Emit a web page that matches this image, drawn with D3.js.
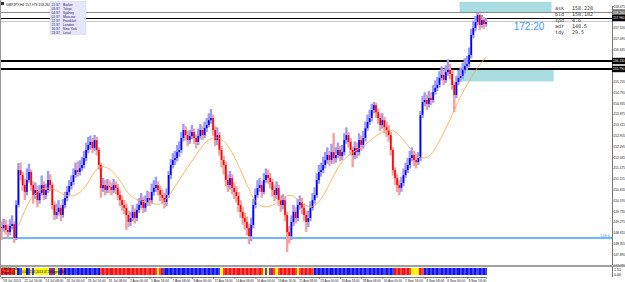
<!DOCTYPE html>
<html>
<head>
<meta charset="UTF-8">
<title>GBPJPY,H4</title>
<script src="https://d3js.org/d3.v7.min.js"></script>
<style>
body { margin: 0; background: #fff; }
svg { display: block; font-family: "Liberation Sans", Arial, sans-serif; }
</style>
</head>
<body>
<div id="graph"></div>
<script>
// H4 bars, 19 Jul 2013 -> 11 Sep 2013 (open of each bar = previous close)
const firstOpen = 149.05;
const closes = [
  149.01,149.14,148.93,148.84,149.10,149.18,148.59,150.00,151.48,151.27,
  150.84,150.55,151.06,151.40,150.84,150.42,150.63,150.20,150.50,150.84,
  150.42,150.63,151.06,150.84,149.99,149.57,149.70,149.87,149.57,149.99,
  150.29,150.55,150.80,150.97,151.27,151.48,151.40,151.57,151.70,151.99,
  152.34,152.55,152.68,152.42,152.76,152.34,151.70,150.72,150.84,150.63,
  150.80,150.76,150.63,150.84,150.72,150.42,150.20,149.99,149.87,149.57,
  149.27,149.44,149.70,149.44,149.78,149.99,150.20,149.87,150.08,150.29,
  150.20,150.55,150.72,150.84,150.63,150.42,150.29,150.12,150.42,151.27,
  151.70,151.91,151.99,152.25,152.34,152.85,153.19,152.97,152.76,152.93,
  153.10,152.85,152.68,152.93,153.19,152.97,153.27,153.40,153.61,153.70,
  153.19,152.76,152.97,152.34,151.91,151.70,151.06,150.84,151.14,150.72,
  150.55,150.38,149.99,149.70,149.44,149.27,149.01,148.67,149.14,149.99,
  150.42,150.72,150.84,150.55,151.06,151.27,151.14,150.97,150.63,150.42,
  150.72,150.20,149.99,150.20,149.57,148.84,148.67,149.27,149.70,149.44,
  149.99,150.12,149.87,149.57,149.27,149.44,149.87,150.20,150.42,151.06,
  151.40,151.48,151.70,151.91,152.12,151.91,152.25,151.99,152.12,152.34,
  152.08,152.25,152.76,152.97,152.68,152.34,152.12,152.42,152.25,152.76,
  152.55,152.85,153.27,153.53,153.70,154.04,154.25,153.95,153.70,153.40,
  153.61,153.31,153.19,152.97,152.34,151.48,151.14,150.84,150.72,150.93,
  151.27,151.48,151.70,151.99,152.12,151.91,151.82,151.99,153.83,154.38,
  154.47,154.30,154.55,154.47,154.81,154.98,155.11,155.41,155.54,155.32,
  155.66,155.75,155.58,155.11,154.68,155.24,155.41,155.49,155.75,155.92,
  156.00,156.39,157.24,157.54,157.79,158.09,157.67,157.88,157.71,157.79
];
const highs = [
  149.30,149.40,149.35,149.15,149.38,149.55,149.30,150.20,151.78,151.80,
  151.40,151.10,151.55,151.75,151.50,151.00,150.95,150.80,150.85,151.25,
  151.00,150.90,151.45,151.30,150.95,150.15,150.05,150.20,150.00,150.25,
  150.55,150.80,151.05,151.25,151.55,151.80,151.85,151.90,152.05,152.30,
  152.65,152.90,152.95,152.85,152.98,152.90,152.45,151.80,151.15,151.05,
  151.10,151.05,150.95,151.10,151.00,150.90,150.60,150.40,150.20,150.05,
  149.75,149.70,150.00,149.85,150.05,150.30,150.50,150.35,150.40,150.60,
  150.55,150.90,151.05,151.20,151.00,150.80,150.65,150.50,150.70,151.45,
  151.95,152.20,152.30,152.55,152.70,153.10,153.45,153.35,153.15,153.20,
  153.40,153.25,153.00,153.25,153.45,153.35,153.55,153.70,153.90,154.08,
  153.85,153.35,153.30,153.10,152.50,152.10,151.85,151.30,151.45,151.30,
  150.95,150.80,150.55,150.20,149.90,149.65,149.50,149.20,149.45,150.25,
  150.70,151.05,151.15,151.00,151.35,151.55,151.50,151.35,151.10,150.85,
  151.00,150.85,150.40,150.45,150.35,149.70,149.10,149.55,150.00,149.90,
  150.25,150.40,150.30,150.05,149.75,149.75,150.15,150.50,150.75,151.35,
  151.70,151.80,152.05,152.25,152.45,152.30,152.60,153.06,152.45,152.65,
  152.50,152.55,153.05,153.30,153.10,152.85,152.50,152.70,152.65,153.05,
  152.95,153.15,153.55,153.85,154.05,154.30,154.38,154.35,154.10,153.90,
  153.90,153.75,153.55,153.40,153.10,152.45,151.60,151.30,151.05,151.20,
  151.55,151.80,152.00,152.30,152.45,152.30,152.15,152.25,154.00,154.65,
  154.80,154.70,154.85,154.80,155.10,155.30,155.45,155.70,155.90,155.80,
  155.95,156.20,156.00,155.75,155.25,155.50,155.75,155.85,156.05,156.25,
  156.35,156.70,157.50,157.85,158.05,158.18,158.15,158.10,158.00,157.95
];
const lows = [
  148.50,148.85,148.75,148.60,148.70,148.95,148.38,148.50,149.90,151.05,
  150.60,150.20,150.40,150.95,150.60,150.05,150.25,149.90,150.05,150.40,
  150.20,150.25,150.50,150.60,149.80,149.35,149.40,149.55,149.30,149.45,
  149.85,150.15,150.40,150.65,150.85,151.15,151.20,151.25,151.45,151.55,
  151.85,152.20,152.35,152.20,152.30,152.10,151.50,150.30,150.55,150.40,
  150.50,150.50,150.40,150.50,150.45,150.20,149.95,149.75,149.60,148.93,
  149.05,149.10,149.30,149.20,149.30,149.65,149.85,149.65,149.70,149.95,
  149.95,150.05,150.40,150.55,150.40,150.15,150.05,149.85,149.95,150.30,
  151.10,151.55,151.70,151.85,152.05,152.20,152.70,152.75,152.50,152.60,
  152.80,152.60,152.40,152.55,152.80,152.75,152.85,153.10,153.30,153.45,
  152.95,152.50,152.55,152.10,151.60,151.30,150.80,150.55,150.65,150.45,
  150.25,150.10,149.70,149.45,149.15,148.95,148.70,148.33,148.45,149.00,
  149.85,150.30,150.55,150.30,150.45,150.95,150.90,150.70,150.35,150.15,
  150.25,149.95,149.70,149.80,149.30,147.99,148.35,148.50,149.10,149.20,
  149.30,149.80,149.60,149.30,148.84,149.05,149.30,149.75,150.05,150.30,
  150.90,151.20,151.35,151.55,151.75,151.65,151.75,151.75,151.80,152.00,
  151.85,151.90,152.10,152.60,152.45,152.10,151.60,151.95,152.00,152.10,
  152.30,152.40,152.70,153.15,153.40,153.55,153.90,153.70,153.45,153.15,
  153.25,153.05,152.90,152.70,152.10,151.25,150.85,150.55,150.42,150.55,
  150.80,151.15,151.35,151.55,151.85,151.65,151.55,151.70,151.85,153.70,
  154.20,154.05,154.15,154.25,154.35,154.70,154.85,155.00,155.30,155.10,
  155.20,155.50,155.35,154.90,153.95,154.55,155.10,155.25,155.35,155.60,
  155.75,155.85,156.25,157.10,157.40,157.65,157.45,157.55,157.50,157.60
];

// moving average
const maBars = [8,12,16,20,24,28,32,36,40,44,48,52,56,60,64,68,72,76,80,84,88,92,96,100,
  104,108,112,116,120,124,128,132,136,140,144,148,152,156,160,164,168,172,176,180,184,188,
  192,196,200,204,208,212,216,220,224,229];
const maValues = [149.10,150.00,150.55,150.72,150.72,150.50,150.33,150.42,150.76,151.48,
  151.70,151.48,151.06,150.42,150.20,150.12,150.04,149.99,150.50,151.06,151.61,152.12,152.68,
  152.89,152.85,152.42,151.70,150.84,150.08,149.87,149.95,150.20,150.50,150.25,149.91,149.91,
  150.33,151.06,151.78,152.12,152.34,152.55,152.89,153.10,153.23,153.02,152.51,152.12,151.91,
  152.21,152.89,153.61,154.47,155.11,155.75,156.30];

// trend strip in the sub window: r = down, b = up, y = neutral
const stripRuns = [["r",7],["y",1],["b",2],["y",2],["b",2],["y",1],["b",1],["y",7],
  ["b",1],["r",1],["b",1],["y",1],["b",2],["r",1],["b",1],["b",16],["r",27],["y",1],["r",2],
  ["b",27],["y",1],["r",19],["y",1],["b",1],["y",1],["b",1],["r",1],["r",1],["y",1],["r",1],
  ["r",8],["y",1],["r",7],["b",38],["r",8],["y",4],["r",2],["b",30]];

const dateLabels = ["19 Jul 2013","22 Jul 16:00","24 Jul 08:00","26 Jul 00:00","29 Jul 16:00",
  "31 Jul 08:00","2 Aug 00:00","5 Aug 16:00","7 Aug 08:00","9 Aug 00:00","12 Aug 16:00",
  "14 Aug 08:00","16 Aug 00:00","19 Aug 16:00","21 Aug 08:00","23 Aug 00:00","26 Aug 16:00",
  "28 Aug 08:00","30 Aug 00:00","2 Sep 16:00","4 Sep 08:00","6 Sep 00:00","9 Sep 16:00"];
const priceTicks = [158.475,158.015,157.555,157.095,156.635,156.175,155.715,155.255,154.795,
  154.335,153.875,153.415,152.955,152.495,152.035,151.575,151.115,150.655,150.195,149.735,
  149.275,148.815,148.355,147.895,147.435];

const bidAskLines = [158.200, 157.960, 157.840];
const hLevels = [156.130, 155.790];
const supportLevel = 148.585;
const zones = [[216.5, 260, 158.65, 158.18], [216.5, 261, 155.75, 155.26]];

const infoLabels = ["ask","bid","spd","adr","tdy"];
const infoValues = ["158.228","158.182","4.6","148.5","29.5"];
const timerText = "172:20";
const sessionTimes = ["21:37","03:37","04:37","01:37","22:37","21:37","16:37","23:37"];
const sessionNames = ["Broker","Tokyo","Sydney","Moscow","Frankfurt","London","New York","Local"];
const titleText = "GBPJPY,H4 157.973 158.263";

const width = 625, height = 282;
const axisX = 612;

const svg = d3.select("#graph").append("svg")
  .attr("width", width)
  .attr("height", height);

svg.append("rect").attr("width", width).attr("height", height).attr("fill", "#fff");

const xScale = d3.scaleLinear().domain([0, closes.length - 1]).range([1.5, 486]);
const yScale = d3.scaleLinear().domain([147.435, 158.475]).range([265, 6]);
const step = xScale(1) - xScale(0);

// zones
svg.selectAll(".zone").data(zones).enter().append("rect")
  .attr("x", d => xScale(d[0]))
  .attr("width", d => xScale(d[1]) - xScale(d[0]))
  .attr("y", d => yScale(d[2]))
  .attr("height", d => yScale(d[3]) - yScale(d[2]))
  .attr("fill", "#a8dde2");

// horizontal lines
const lineG = svg.append("g").attr("shape-rendering", "crispEdges");
lineG.selectAll(".ba").data(bidAskLines).enter().append("line")
  .attr("x1", 0).attr("x2", axisX)
  .attr("y1", d => Math.round(yScale(d)) + 0.5).attr("y2", d => Math.round(yScale(d)) + 0.5)
  .attr("stroke", (d, i) => ["#8a8a8a", "#000", "#c8c8c8"][i]);
lineG.selectAll(".lv").data(hLevels).enter().append("line")
  .attr("x1", 0).attr("x2", axisX)
  .attr("y1", d => yScale(d)).attr("y2", d => yScale(d))
  .attr("stroke", "#000").attr("stroke-width", 1.3);
lineG.append("line")
  .attr("x1", 0).attr("x2", axisX)
  .attr("y1", yScale(supportLevel)).attr("y2", yScale(supportLevel))
  .attr("stroke", "#6cb8ff").attr("stroke-width", 1.3);

// candles
const bars = closes.map((c, i) => ({
  i: i, o: i ? closes[i - 1] : firstOpen, c: c, h: highs[i], l: lows[i]
}));
const candles = svg.append("g");
candles.selectAll(".wick").data(bars).enter().append("rect")
  .attr("x", d => xScale(d.i) - 1.2)
  .attr("width", 2.4)
  .attr("y", d => yScale(d.h))
  .attr("height", d => Math.max(yScale(d.l) - yScale(d.h), 1))
  .attr("fill", d => d.c >= d.o ? "#9c9cf7" : "#f7a0a0");
candles.selectAll(".body").data(bars).enter().append("rect")
  .attr("x", d => xScale(d.i) - 0.8)
  .attr("width", 1.6)
  .attr("y", d => yScale(Math.max(d.o, d.c)))
  .attr("height", d => Math.max(Math.abs(yScale(d.o) - yScale(d.c)), 1))
  .attr("fill", d => d.c >= d.o ? "#0000ff" : "#ff0000");

// moving average
const ma = maBars.map((b, k) => [b, maValues[k]]);
svg.append("path")
  .datum(ma)
  .attr("fill", "none")
  .attr("stroke", "#ffa54a")
  .attr("stroke-width", 0.8)
  .attr("d", d3.line().x(d => xScale(d[0])).y(d => yScale(d[1])).curve(d3.curveBasis));

// price axis (labels hidden where a price box sits on top of them)
const boxPrices = [bidAskLines[0], bidAskLines[1], hLevels[0], hLevels[1]];
const shownTicks = priceTicks.filter(t => boxPrices.every(b => Math.abs(yScale(t) - yScale(b)) > 5));
const yAxis = d3.axisRight(yScale).tickValues(shownTicks).tickFormat(d3.format(".3f")).tickSize(1.5);
const yg = svg.append("g").attr("transform", "translate(" + axisX + ",0)").call(yAxis);
yg.select(".domain").attr("stroke", "#777");
yg.selectAll("text").attr("font-size", 3.2).attr("x", 1.5).attr("fill", "#222");
yg.selectAll("line").attr("stroke", "#777");

const boxes = svg.selectAll(".pbox").data(boxPrices).enter().append("g");
boxes.append("rect")
  .attr("x", axisX).attr("width", width - axisX)
  .attr("y", d => yScale(d) - 3.2).attr("height", 6.4)
  .attr("fill", (d, i) => i === 0 ? "#707070" : "#000");
boxes.append("text")
  .attr("x", axisX + 1).attr("y", d => yScale(d) + 1.4)
  .attr("font-size", 3.2).attr("fill", "#fff")
  .text(d => d.toFixed(3));

svg.append("text")
  .attr("x", axisX - 2).attr("y", yScale(supportLevel) - 1)
  .attr("text-anchor", "end").attr("font-size", 4).attr("fill", "#4aa0ff")
  .text(supportLevel.toFixed(1));

// sub window
svg.append("rect").attr("x", 0).attr("y", 265).attr("width", width).attr("height", 2)
  .attr("fill", "#a0a0a0");
const strip = [];
stripRuns.forEach(r => { for (let k = 0; k < r[1]; k++) strip.push(r[0]); });
const stripColor = {
  r: ["#f51414", "#ff4646"],
  b: ["#1414f0", "#4646ff"],
  y: ["#ffff00", "#f5f500"]
};
svg.append("g").attr("shape-rendering", "crispEdges")
  .selectAll("rect").data(strip).enter().append("rect")
  .attr("x", (d, i) => xScale(i) - step / 2)
  .attr("width", step + 0.2)
  .attr("y", 267.5)
  .attr("height", 7)
  .attr("fill", (d, i) => stripColor[d][i % 2]);

const stripNotes = [[2, 270, "TREND H4"], [2, 274, "Power 6.5"], [22, 272.5, "0.0  2  21.3  2013.07.19  Signal Sell"]];
svg.selectAll(".note").data(stripNotes).enter().append("text")
  .attr("x", d => d[0]).attr("y", d => d[1])
  .attr("font-size", 3).attr("fill", "#000")
  .text(d => d[2]);

svg.append("line").attr("x1", axisX + 0.5).attr("x2", axisX + 0.5).attr("y1", 267).attr("y2", 277)
  .attr("stroke", "#777");
svg.append("text").attr("x", axisX + 2).attr("y", 270.5).attr("font-size", 3.6).text("1.51");
svg.append("text").attr("x", axisX + 2).attr("y", 276).attr("font-size", 3.6).text("0.00");

// time axis
const dateBars = dateLabels.map((d, k) => k * 10);
const xAxis = d3.axisBottom(xScale).tickValues(dateBars).tickFormat((d, k) => dateLabels[k]).tickSize(1.5);
const xg = svg.append("g").attr("transform", "translate(0,277)").call(xAxis);
xg.select(".domain").attr("stroke", "#777");
xg.selectAll("line").attr("stroke", "#555");
xg.selectAll("text").attr("font-size", 3.9).attr("text-anchor", "start").attr("dx", "1").attr("y", 2.5)
  .attr("textLength", 18).attr("lengthAdjust", "spacingAndGlyphs").attr("fill", "#222");
svg.append("line").attr("x1", 0.5).attr("x2", 0.5).attr("y1", 0).attr("y2", 277).attr("stroke", "#999");

// title
svg.append("rect").attr("x", 1).attr("y", 2).attr("width", 3).attr("height", 3).attr("fill", "#333");
svg.append("text").attr("x", 6).attr("y", 5.5).attr("font-size", 3.4).attr("fill", "#111")
  .text(titleText);

// session clock box
svg.append("rect").attr("x", 50).attr("y", 1.5).attr("width", 36).attr("height", 33)
  .attr("fill", "#e6e6fa").attr("stroke", "#d0d0ee").attr("stroke-width", 0.5);
const sess = svg.selectAll(".sess").data(sessionNames).enter().append("g");
sess.append("text").attr("x", 51.5).attr("y", (d, k) => 5.5 + k * 4)
  .attr("font-size", 3.3).attr("fill", "#222266").text((d, k) => sessionTimes[k]);
sess.append("text").attr("x", 63).attr("y", (d, k) => 5.5 + k * 4)
  .attr("font-size", 3.3).attr("fill", "#222266").text(d => d);

// price info block
const info = svg.selectAll(".info").data(infoLabels).enter().append("g")
  .attr("font-family", "'DejaVu Sans Mono', monospace").attr("font-size", 5).attr("fill", "#333");
info.append("text").attr("x", 555).attr("y", (d, k) => 10 + k * 6).text(d => d);
info.append("text").attr("x", 572).attr("y", (d, k) => 10 + k * 6).text((d, k) => infoValues[k]);

svg.append("text")
  .attr("x", 529).attr("y", 30)
  .attr("text-anchor", "middle")
  .attr("font-size", 10)
  .attr("fill", "#3d9bff")
  .text(timerText);
</script>
</body>
</html>
